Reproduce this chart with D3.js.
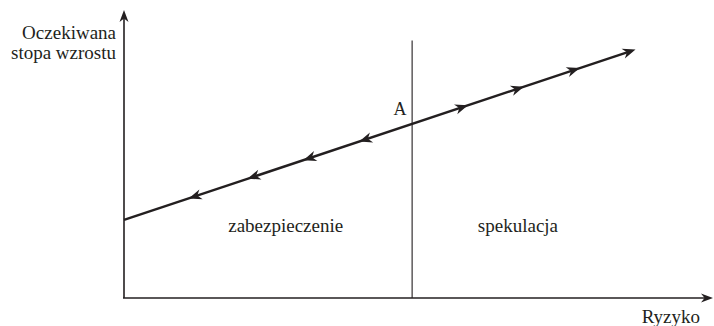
<!DOCTYPE html>
<html>
<head>
<meta charset="utf-8">
<script src="https://cdn.jsdelivr.net/npm/d3@7"></script>
<style>
  body { margin: 0; background: #fff; }
  text { font-family: "Liberation Serif", "DejaVu Serif", serif; fill: #231f20; }
</style>
</head>
<body>
<div id="chart"></div>
<script>
// risk (x) and expected growth (y)
var lineStart = [0, 2.73];
var lineEnd = [8.7, 8.69];
var pointA = [4.9, 6.09];
// arrowheads pointing towards lower risk (hedging side)
var leftArrows = [[1.1, 3.48], [2.1, 4.17], [3.05, 4.82], [4.0, 5.47]];
// arrowheads pointing towards higher risk (speculation side)
var rightArrows = [[5.85, 6.74], [6.8, 7.39], [7.75, 8.04], [8.7, 8.69]];
var regionLabels = [
  { name: "zabezpieczenie", risk: 2.75 },
  { name: "spekulacja", risk: 6.7 }
];
var yTitle = ["Oczekiwana", "stopa wzrostu"];
var xTitle = "Ryzyko";

var width = 714, height = 326;
var margin = {top: 12, right: 2, bottom: 28, left: 124};

var svg = d3.select("#chart").append("svg")
    .attr("width", width)
    .attr("height", height);

var x = d3.scaleLinear().domain([0, 10]).range([margin.left, width - margin.right]);
var y = d3.scaleLinear().domain([0, 10]).range([height - margin.bottom, margin.top]);

var ink = "#231f20";

// arrowhead shape, tip at (0,0) pointing along +x
function head(len, half) {
  return "M0,0 L" + (-len) + "," + (-half) + " L" + (-len * 0.7) + ",0 L" + (-len) + "," + half + " Z";
}

// axes
svg.append("line")
    .attr("x1", x(0)).attr("y1", y(0))
    .attr("x2", x(0)).attr("y2", y(10) + 2)
    .attr("stroke", ink).attr("stroke-width", 1.6);
svg.append("line")
    .attr("x1", x(0) - 1).attr("y1", y(0))
    .attr("x2", x(10) - 2).attr("y2", y(0))
    .attr("stroke", ink).attr("stroke-width", 1.6);
svg.append("path")
    .attr("d", head(12, 4.5))
    .attr("transform", "translate(" + x(0) + "," + (y(10) - 2) + ") rotate(-90)")
    .attr("fill", ink);
svg.append("path")
    .attr("d", head(12, 4.5))
    .attr("transform", "translate(" + (x(10) + 1) + "," + y(0) + ")")
    .attr("fill", ink);

// vertical line through A
svg.append("line")
    .attr("x1", x(pointA[0])).attr("y1", y(0))
    .attr("x2", x(pointA[0])).attr("y2", y(9))
    .attr("stroke", ink).attr("stroke-width", 1.1);

// main line
svg.append("line")
    .attr("x1", x(lineStart[0])).attr("y1", y(lineStart[1]))
    .attr("x2", x(lineEnd[0]) - 4).attr("y2", y(lineEnd[1]) + 1.4)
    .attr("stroke", ink).attr("stroke-width", 2.4);

var angle = Math.atan2(y(lineEnd[1]) - y(lineStart[1]), x(lineEnd[0]) - x(lineStart[0])) * 180 / Math.PI;

svg.selectAll(".left-head")
  .data(leftArrows)
  .enter().append("path")
    .attr("class", "left-head")
    .attr("d", head(13, 5.2))
    .attr("transform", function(d) {
      return "translate(" + x(d[0]) + "," + y(d[1]) + ") rotate(" + (angle + 180) + ")";
    })
    .attr("fill", ink);

svg.selectAll(".right-head")
  .data(rightArrows)
  .enter().append("path")
    .attr("class", "right-head")
    .attr("d", head(13, 5.2))
    .attr("transform", function(d) {
      return "translate(" + x(d[0]) + "," + y(d[1]) + ") rotate(" + angle + ")";
    })
    .attr("fill", ink);

// labels
svg.append("text")
    .attr("x", x(pointA[0]) - 12)
    .attr("y", y(pointA[1]) - 9)
    .attr("text-anchor", "middle")
    .style("font-size", "18px")
    .text("A");

svg.selectAll(".region")
  .data(regionLabels)
  .enter().append("text")
    .attr("class", "region")
    .attr("x", function(d) { return x(d.risk); })
    .attr("y", y(2.3))
    .attr("text-anchor", "middle")
    .style("font-size", "19px")
    .text(function(d) { return d.name; });

svg.selectAll(".ytitle")
  .data(yTitle)
  .enter().append("text")
    .attr("class", "ytitle")
    .attr("x", x(0) - 8)
    .attr("y", function(d, i) { return 39 + i * 20; })
    .attr("text-anchor", "end")
    .style("font-size", "19px")
    .text(function(d) { return d; });

svg.append("text")
    .attr("x", x(10) - 12)
    .attr("y", y(0) + 25)
    .attr("text-anchor", "end")
    .style("font-size", "19px")
    .text(xTitle);
</script>
</body>
</html>
